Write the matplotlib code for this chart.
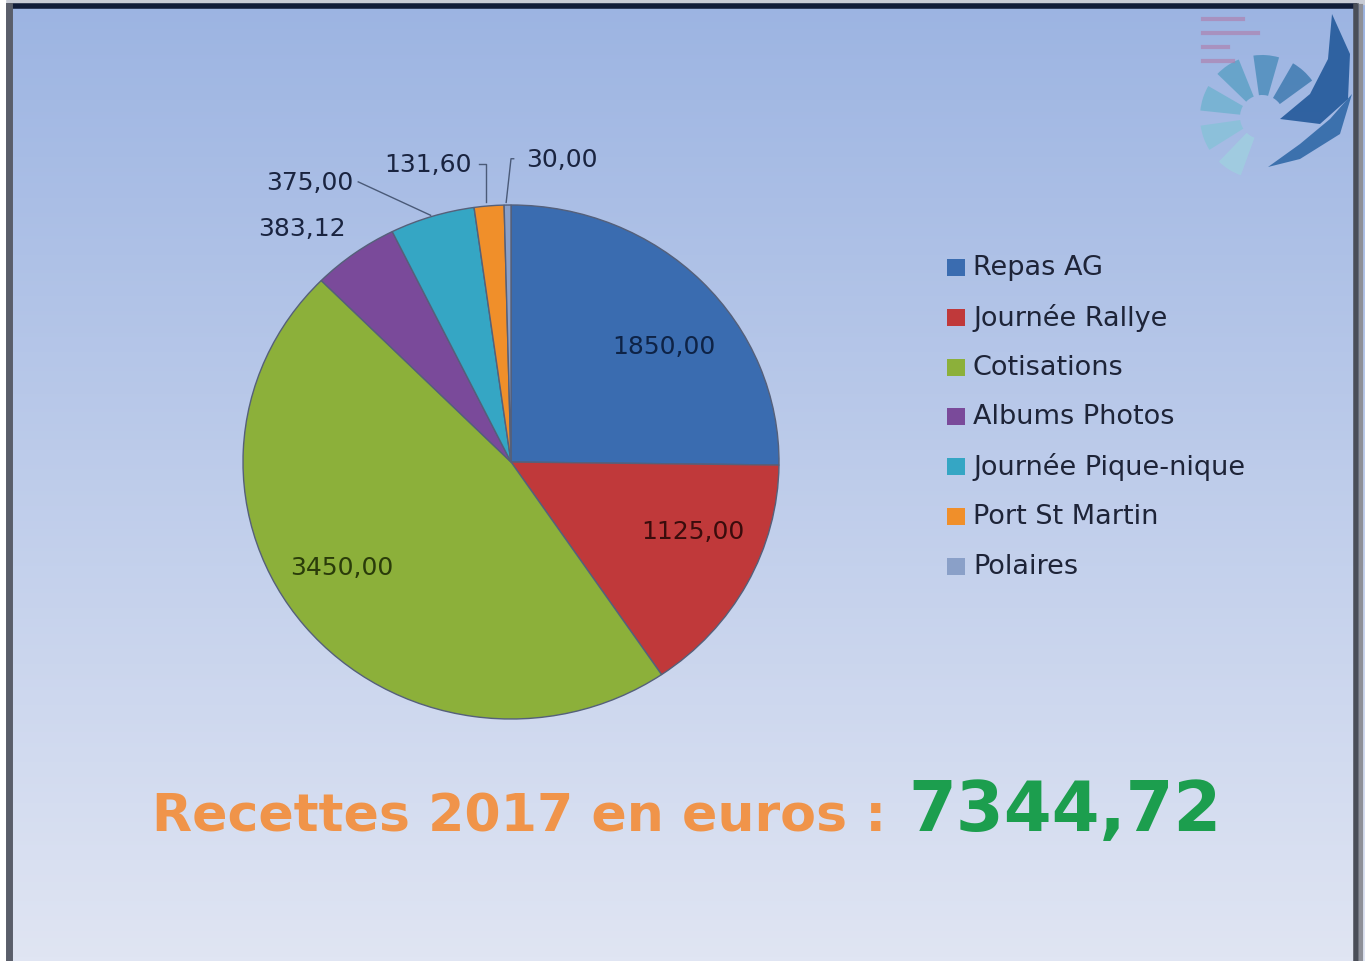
import numpy as np
import matplotlib.pyplot as plt
from matplotlib.patches import Polygon, Wedge
from matplotlib.colors import to_rgb

categories = ['Repas AG', 'Journée Rallye', 'Cotisations', 'Albums Photos',
              'Journée Pique-nique', 'Port St Martin', 'Polaires']
values = [1850.00, 1125.00, 3450.00, 383.12, 375.00, 131.60, 30.00]
colors = ['#3a6cb0', '#c0393a', '#8cb03a', '#7a4a9a', '#35a6c4', '#f08f2a', '#8aa0c8']
label_colors = ['#0e2346', '#3a0c0c', '#2a3c0a', '#1a2440', '#1a2440', '#1a2440', '#1a2440']
total_text = '7344,72'


def fmt(v):
    return f'{v:.2f}'.replace('.', ',')


W, H = 1365, 962
fig = plt.figure(figsize=(W / 100, H / 100), dpi=100)

# background gradient + frame
bg = fig.add_axes([0, 0, 1, 1])
top = np.array(to_rgb('#9cb4e2'))
bot = np.array(to_rgb('#e0e5f3'))
t = np.linspace(0, 1, 256)[:, None]
grad = top * (1 - t) + bot * t
bg.imshow(grad[:, None, :], aspect='auto', extent=[0, W, H, 0])
bg.set_xlim(0, W)
bg.set_ylim(H, 0)
bg.axis('off')
bg.fill_between([0, W], 0, 5, color='#c8ccd6')
bg.fill_between([0, 5], 0, H, color='#ffffff')
bg.plot([8, W - 8], [7, 7], color='#101c38', lw=4, solid_capstyle='butt')
bg.plot([9, 9], [7, H], color='#5a5e6a', lw=5)
bg.plot([1356, 1356], [7, H], color='#4a4e58', lw=4)
bg.plot([1361, 1361], [7, H], color='#8e9098', lw=3)

# rough logo, top right: swirl petals + dark sail
petal_cols = ['#9fd0e0', '#86c2d8', '#6fb2cf', '#5aa0c4', '#4a8cba', '#3a78ae']
for k, ang in enumerate(range(110, 330, 38)):
    bg.add_patch(Wedge((1262, 118), 62, ang, ang + 24, width=40,
                       color=petal_cols[k % len(petal_cols)], alpha=0.8, lw=0))
sail = Polygon([[1332, 15], [1350, 55], [1348, 100], [1320, 125], [1280, 120],
                [1310, 95], [1328, 60]], closed=True, color='#23599a', alpha=0.9, lw=0)
bg.add_patch(sail)
band = Polygon([[1352, 95], [1340, 135], [1300, 160], [1268, 168], [1300, 145],
                [1330, 120]], closed=True, color='#2a64a4', alpha=0.85, lw=0)
bg.add_patch(band)
for i, w in enumerate([40, 55, 25, 30]):
    bg.plot([1203, 1203 + w], [20 + i * 14, 20 + i * 14], color='#b07aa8', lw=3, alpha=0.6)

# pie
cx, cy, rx, ry = 511, 463, 268, 257
pax = fig.add_axes([(cx - rx) / W, (H - cy - ry) / H, 2 * rx / W, 2 * ry / H])
wedges, _ = pax.pie(values, colors=colors, startangle=90, counterclock=False,
                    radius=1, wedgeprops=dict(edgecolor='#55607a', linewidth=1.0))
pax.set_aspect('auto')
pax.set_xlim(-1, 1)
pax.set_ylim(-1, 1)
pax.axis('off')

# data labels: inside for the big slices, outside with leaders for the small ones
inside_pos = {0: (0.57, 0.45), 1: (0.68, -0.27), 2: (-0.63, -0.41)}
outside_pos = {3: (-0.78, 0.91), 4: (-0.75, 1.09), 5: (-0.31, 1.16), 6: (0.19, 1.18)}
leader_pts = {4: [(-0.57, 1.09), (-0.30, 0.96)],
              5: [(-0.12, 1.16), (-0.095, 1.16), (-0.095, 1.01)],
              6: [(0.01, 1.18), (0.0, 1.18), (-0.018, 1.01)]}
for i, v in enumerate(values):
    if i in inside_pos:
        x, y = inside_pos[i]
        pax.text(x, y, fmt(v), ha='center', va='center', fontsize=18,
                 color=label_colors[i])
    else:
        x, y = outside_pos[i]
        pax.text(x, y, fmt(v), ha='center', va='center', fontsize=18,
                 color='#1a2440', clip_on=False)
        if i in leader_pts:
            xs, ys = zip(*leader_pts[i])
            pax.plot(xs, ys, color='#4a5a78', lw=1, clip_on=False)

# legend
leg_y0, leg_dy = 268, 49.8
for i, name in enumerate(categories):
    y = leg_y0 + i * leg_dy
    bg.add_patch(plt.Rectangle((947, y - 8), 18, 17, color=colors[i], lw=0))
    bg.text(973, y, name, fontsize=19.5, color='#1e2438', va='center', ha='left')

# bottom title
bg.text(152, 818, 'Recettes 2017 en euros :', fontsize=37.5, fontweight='bold',
        color='#f0944a', va='center', ha='left')
bg.text(908, 812, total_text, fontsize=49.5, fontweight='bold',
        color='#1c9e4e', va='center', ha='left')

fig.savefig('out.png', dpi=100)
